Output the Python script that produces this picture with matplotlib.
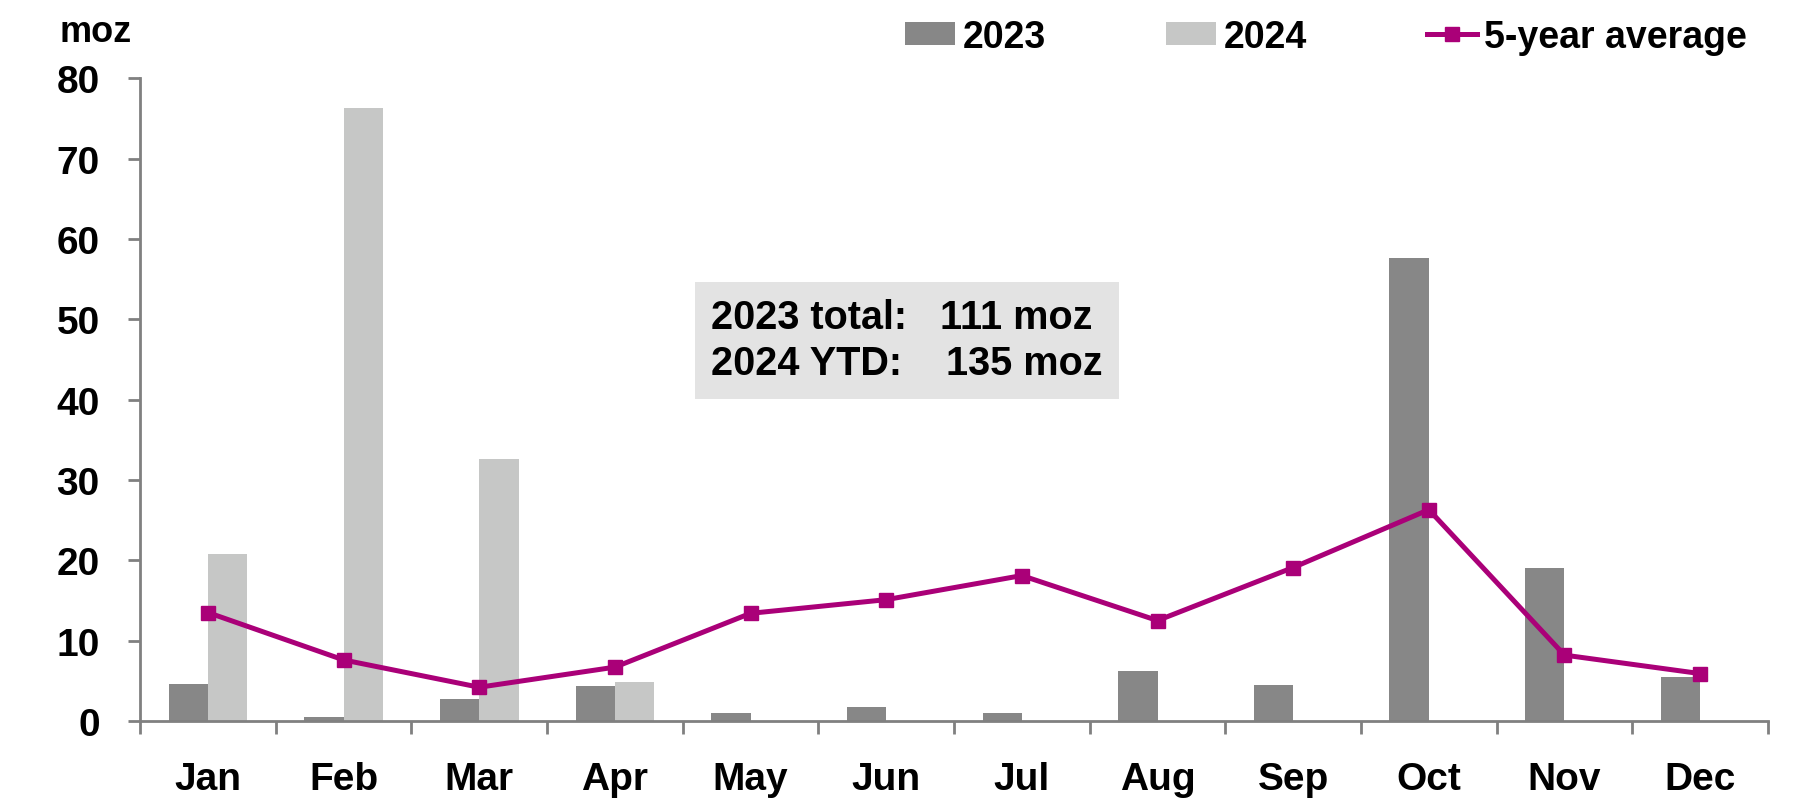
from matplotlib import pyplot as plt
from matplotlib.ticker import FixedLocator
import numpy as np

months = ['Jan', 'Feb', 'Mar', 'Apr', 'May', 'Jun',
          'Jul', 'Aug', 'Sep', 'Oct', 'Nov', 'Dec']
val_2023 = [4.6, 0.5, 2.7, 4.3, 1.0, 1.7, 1.0, 6.2, 4.5, 57.6, 19.1, 5.5]
val_2024 = [20.8, 76.3, 32.6, 4.8, 0, 0, 0, 0, 0, 0, 0, 0]
avg_5yr = [13.5, 7.6, 4.2, 6.7, 13.4, 15.1, 18.1, 12.5, 19.1, 26.3, 8.2, 5.9]
yticks = [0, 10, 20, 30, 40, 50, 60, 70, 80]
box_lines = ['2023 total:   111 moz', '2024 YTD:    135 moz']

dark = '#878787'
light = '#c6c7c6'
magenta = '#aa0078'
axis_grey = '#808080'

plt.rcParams['font.family'] = ['Liberation Sans', 'DejaVu Sans']
plt.rcParams['font.weight'] = 'bold'

fig = plt.figure(figsize=(18.12, 8.04), dpi=100)
ax = fig.add_axes([0.0773, 0.1020, 0.8984, 0.7995])

x = np.arange(len(months))
w = 0.29
b1 = ax.bar(x - w / 2, val_2023, w, color=dark, label='2023', zorder=2)
b2 = ax.bar(x + w / 2, val_2024, w, color=light, label='2024', zorder=2)
l1, = ax.plot(x, avg_5yr, color=magenta, lw=3.6, marker='s', ms=10,
              label='5-year average', zorder=3)

ax.set_xlim(-0.5, 11.5)
ax.set_ylim(0, 80)

for s in ['top', 'right']:
    ax.spines[s].set_visible(False)
for s in ['left', 'bottom']:
    ax.spines[s].set_color(axis_grey)
    ax.spines[s].set_linewidth(2)

ax.set_yticks(yticks)
ax.tick_params(axis='y', direction='out', length=9, width=2, color=axis_grey,
               labelsize=28, pad=20)
ax.set_xticks(x)
ax.set_xticklabels(months)
ax.xaxis.set_minor_locator(FixedLocator(np.arange(-0.5, 12, 1)))
ax.tick_params(axis='x', which='major', length=0, labelsize=28, pad=29)
ax.tick_params(axis='x', which='minor', direction='out', length=9, width=2,
               color=axis_grey)
for lbl in ax.get_xticklabels() + ax.get_yticklabels():
    lbl.set_fontweight('bold')

# totals box
ax.text(3.71, 47.4, '\n'.join(box_lines), fontsize=28.5, fontweight='bold',
        va='center', ha='left', linespacing=1.25,
        bbox=dict(facecolor='#e3e3e3', edgecolor='none', pad=12), zorder=4)

fig.text(0.033, 0.960, 'moz', fontsize=26, fontweight='bold',
         ha='left', va='center')

ax.legend([b1, b2, l1], ['2023', '2024', '5-year average'],
          loc='center right', bbox_to_anchor=(0.9641, 0.953),
          bbox_transform=fig.transFigure, ncol=3, frameon=False,
          prop={'weight': 'bold', 'size': 27},
          handlelength=1.33, handleheight=0.6, handletextpad=0.2,
          columnspacing=3.2, borderaxespad=0, borderpad=0)

fig.savefig('out.png', dpi=100)
